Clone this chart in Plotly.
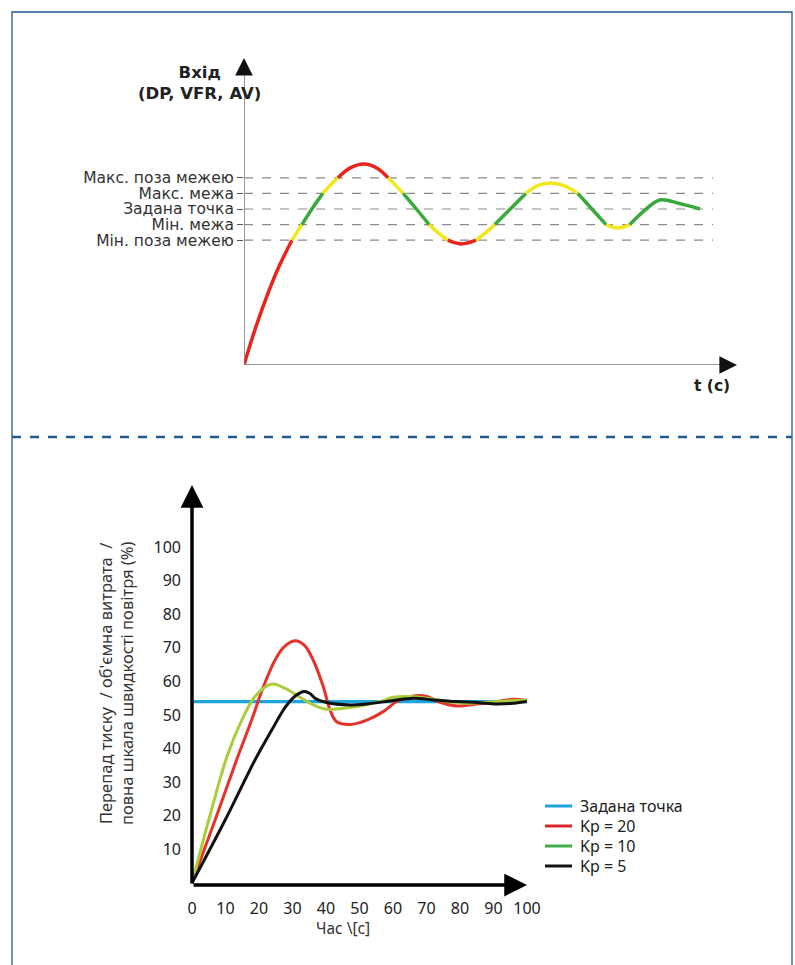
import plotly.graph_objects as go

W, H = 795, 965

# ---------------- Top chart data ----------------
TOP_T = [0, 2.5, 5.0, 7.5, 10.5, 12.7, 15.0, 17.3, 19.0, 20.6, 23.4, 26.5, 29.3, 31.6, 33.3, 34.9,
         37.8, 40.6, 42.7, 44.7, 47.6, 50.9, 52.9, 55.0, 58.4, 61.8, 64.4, 67.1, 70.2, 73.2,
         76.3, 79.4, 82.0, 84.6, 87.8, 91.2, 95.5, 100]
TOP_V = [0, 2.35, 4.4, 6.2, 8.0, 9.0, 10.05, 11.0, 11.55, 12.0, 12.65, 12.88, 12.6, 12.0, 11.5, 11.0,
         10.0, 9.0, 8.45, 8.0, 7.76, 8.0, 8.45, 9.0, 10.0, 11.0, 11.5, 11.67, 11.5, 11.0,
         10.0, 9.0, 8.78, 9.0, 9.9, 10.58, 10.35, 10.0]
LEVEL_VALUES = [12, 11, 10, 9, 8]
LEVEL_LABELS = ["Макс. поза межею", "Макс. межа", "Задана точка", "Мін. межа", "Мін. поза межею"]
TOP_SETPOINT = 10
TOP_INNER = 1
TOP_OUTER = 2

# ---------------- Bottom chart data ----------------
SP_T = [0, 100]
SP_V = [54, 54]
KP20_T = [0, 6.9, 13.3, 17.8, 21.3, 24.8, 27.5, 30.7, 33.5, 36.2, 39.2, 41.2, 43.2, 47.2, 52.2,
          57.1, 61.1, 64.5, 67.6, 70.1, 74.1, 79.1, 85.1, 91.0, 96.0, 100]
KP20_V = [0, 18.75, 36.6, 48.5, 58.4, 66.4, 70.3, 72.1, 70.8, 66.3, 58.4, 51.5, 48.0, 47.2, 48.5,
          51.0, 54.0, 55.3, 55.8, 55.5, 53.8, 52.7, 53.3, 54.0, 54.7, 54.3]
KP10_T = [0, 5.2, 10.5, 14.8, 18.8, 23.8, 27.8, 32.7, 36.2, 40.2, 45.2, 50.2, 56.1, 60.1, 65.1,
          70.1, 76.1, 82.1, 88.1, 94.0, 100]
KP10_V = [0, 19.5, 37.8, 48.3, 55.5, 59.2, 57.9, 55.0, 53.0, 51.7, 52.0, 52.7, 54.0, 55.3, 55.5,
          55.0, 54.0, 53.5, 53.8, 54.2, 54.5]
KP5_T = [0, 9.9, 18.8, 23.8, 27.8, 31.0, 33.5, 35.2, 37.0, 40.2, 47.2, 52.2, 60.1, 66.1, 72.1,
         79.1, 85.1, 91.0, 96.0, 100]
KP5_V = [0, 18.75, 36.6, 45.5, 52.3, 55.8, 57.0, 56.4, 54.8, 53.7, 53.0, 53.3, 54.3, 55.0, 54.5,
         54.0, 53.7, 53.3, 53.5, 54.0]
LEGEND_NAMES = ["Задана точка", "Kp = 20", "Kp = 10", "Kp = 5"]
X_TICKS = [0, 10, 20, 30, 40, 50, 60, 70, 80, 90, 100]
Y_TICKS = [10, 20, 30, 40, 50, 60, 70, 80, 90, 100]


def px(x):
    return x / W


def py(y):
    return 1 - y / H


fig = go.Figure()

# ---- top curve, coloured by zone ----
ZONE_COL = {"green": "#3aa93c", "yellow": "#f3e61a", "red": "#e8241d"}


def zone(v):
    d = abs(v - TOP_SETPOINT)
    if d <= TOP_INNER + 1e-9:
        return "green"
    if d <= TOP_OUTER + 1e-9:
        return "yellow"
    return "red"


runs = []
for i in range(len(TOP_T) - 1):
    c = zone((TOP_V[i] + TOP_V[i + 1]) / 2)
    if runs and runs[-1][0] == c:
        runs[-1][1].append(i + 1)
    else:
        runs.append([c, [i, i + 1]])

for c, idx in runs:
    fig.add_trace(go.Scatter(
        x=[TOP_T[k] for k in idx], y=[TOP_V[k] for k in idx],
        mode="lines", line=dict(color=ZONE_COL[c], width=3.5, shape="spline"),
        xaxis="x", yaxis="y", showlegend=False, hoverinfo="skip"))

# ---- bottom curves ----
COL_SP = "#1ba4dd"
COL_20 = "#e5332a"
COL_10 = "#a9cd3b"
COL_5 = "#111111"
LEG_COLS = ["#1ba4dd", "#d9262c", "#3fae49", "#111111"]

fig.add_trace(go.Scatter(x=SP_T, y=SP_V, mode="lines", line=dict(color=COL_SP, width=3.2),
                         name=LEGEND_NAMES[0], xaxis="x2", yaxis="y2", showlegend=False,
                         hoverinfo="skip"))
for tt, vv, col, nm in [(KP20_T, KP20_V, COL_20, LEGEND_NAMES[1]),
                        (KP10_T, KP10_V, COL_10, LEGEND_NAMES[2]),
                        (KP5_T, KP5_V, COL_5, LEGEND_NAMES[3])]:
    fig.add_trace(go.Scatter(x=tt, y=vv, mode="lines", name=nm,
                             line=dict(color=col, width=3, shape="spline", smoothing=1.0),
                             xaxis="x2", yaxis="y2", showlegend=False, hoverinfo="skip"))

# ---- axes geometry (reference pixel -> paper) ----
TOP_X0, TOP_X1 = 244, 737
TOP_Y0, TOP_Y1 = 365, 58
TOP_PX_PER_T = 4.56
TOP_PX_PER_V = 15.6
top_xmax = (TOP_X1 - TOP_X0) / TOP_PX_PER_T
top_ymax = (TOP_Y0 - TOP_Y1) / TOP_PX_PER_V

BOT_X0, BOT_X1 = 192, 527
BOT_Y0, BOT_Y1 = 885, 485
BOT_PX_PER_V = 3.36
bot_ymin = -(BOT_Y0 - 883) / BOT_PX_PER_V
bot_ymax = (883 - BOT_Y1) / BOT_PX_PER_V

TXT = "#333333"
fig.update_layout(
    width=W, height=H,
    margin=dict(l=0, r=0, t=0, b=0, pad=0, autoexpand=False),
    paper_bgcolor="white", plot_bgcolor="white",
    showlegend=False,
    xaxis=dict(domain=[px(TOP_X0), px(TOP_X1)], range=[0, top_xmax], showgrid=False,
               zeroline=False, showline=False, showticklabels=False, ticks="", anchor="y",
               automargin=False),
    yaxis=dict(domain=[py(TOP_Y0), py(TOP_Y1)], range=[0, top_ymax], showgrid=False,
               zeroline=False, showline=False, tickvals=LEVEL_VALUES, ticktext=LEVEL_LABELS,
               ticks="outside", ticklen=6, tickwidth=1, tickcolor="#555555",
               tickfont=dict(family="DejaVu Sans", size=15.5, color=TXT), anchor="x",
               automargin=False),
    xaxis2=dict(domain=[px(BOT_X0), px(BOT_X1)], range=[0, 100], showgrid=False,
                zeroline=False, showline=False, tickvals=X_TICKS, ticks="",
                ticklabelstandoff=12, automargin=False,
                tickfont=dict(family="Noto Sans", size=16, color="#222222"), anchor="y2"),
    yaxis2=dict(domain=[py(BOT_Y0), py(BOT_Y1)], range=[bot_ymin, bot_ymax], showgrid=False,
                zeroline=False, showline=False, tickvals=Y_TICKS, ticks="",
                ticklabelstandoff=10, automargin=False,
                tickfont=dict(family="Noto Sans", size=16, color="#222222"), anchor="x2"),
)

shapes = []
# frame
FRAME = "#1f5b8e"
shapes.append(dict(type="rect", xref="paper", yref="paper", x0=px(12), x1=px(792),
                   y0=-0.05, y1=py(12), line=dict(color=FRAME, width=1.3)))
shapes.append(dict(type="line", xref="paper", yref="paper", x0=px(12), x1=px(792),
                   y0=py(437), y1=py(437), line=dict(color=FRAME, width=2.5, dash="dash")))
# top dashed level lines
for v in LEVEL_VALUES:
    shapes.append(dict(type="line", xref="x", yref="y", x0=0, x1=(713 - TOP_X0) / TOP_PX_PER_T,
                       y0=v, y1=v, line=dict(color="#8a8a8a", width=1.2, dash="dash"),
                       layer="below"))
# top axes lines
shapes.append(dict(type="line", xref="x", yref="y", x0=0, x1=0, y0=0, y1=top_ymax - 0.5,
                   line=dict(color="#777777", width=1.5)))
shapes.append(dict(type="line", xref="x", yref="y", x0=0, x1=top_xmax - 2, y0=0, y1=0,
                   line=dict(color="#777777", width=1.5)))

ann = []
# manual legend (row spacing as in the reference)
LEG_ROWS = [806, 826, 846, 866]
for name, col, ry in zip(LEGEND_NAMES, LEG_COLS, LEG_ROWS):
    shapes.append(dict(type="line", xref="paper", yref="paper", x0=px(545), x1=px(572),
                       y0=py(ry), y1=py(ry), line=dict(color=col, width=3)))
    ann.append(dict(x=px(578), y=py(ry), xref="paper", yref="paper", showarrow=False,
                    text=name, xanchor="left", yanchor="middle",
                    font=dict(family="Noto Sans", size=16, color="#222222")))
fig.update_layout(shapes=shapes)

# top arrow heads
ann.append(dict(x=0, y=top_ymax, ax=0, ay=top_ymax - 1.0, xref="x", yref="y", axref="x", ayref="y",
                text="", showarrow=True, arrowhead=2, arrowsize=2.2, arrowwidth=1.6,
                arrowcolor="#111111", standoff=0))
ann.append(dict(x=top_xmax, y=0, ax=top_xmax - 3, ay=0, xref="x", yref="y", axref="x", ayref="y",
                text="", showarrow=True, arrowhead=2, arrowsize=2.2, arrowwidth=1.6,
                arrowcolor="#111111", standoff=0))
# bottom axes with arrows
ann.append(dict(x=0, y=bot_ymax, ax=0, ay=bot_ymin, xref="x2", yref="y2", axref="x2", ayref="y2",
                text="", showarrow=True, arrowhead=2, arrowsize=1.3, arrowwidth=3.5,
                arrowcolor="#000000", standoff=0))
ann.append(dict(x=100, y=bot_ymin, ax=0, ay=bot_ymin, xref="x2", yref="y2", axref="x2", ayref="y2",
                text="", showarrow=True, arrowhead=2, arrowsize=1.3, arrowwidth=3.5,
                arrowcolor="#000000", standoff=0))
# titles
ann.append(dict(x=px(199), y=py(83), xref="paper", yref="paper", showarrow=False,
                xanchor="center", yanchor="middle",
                text="<b>Вхід</b><br><b>(DP, VFR, AV)</b>",
                font=dict(family="DejaVu Sans", size=16.5, color="#222222"), align="center"))
ann.append(dict(x=px(712), y=py(386), xref="paper", yref="paper", showarrow=False,
                xanchor="center", yanchor="middle",
                text="<b>t (c)</b>",
                font=dict(family="DejaVu Sans", size=15.5, color="#222222")))
ann.append(dict(x=px(116), y=py(684), xref="paper", yref="paper", showarrow=False, textangle=-90,
                xanchor="center", yanchor="middle",
                text="Перепад тиску\u00a0 / об'ємна витрата\u00a0 /<br>повна шкала швидкості повітря (%)",
                font=dict(family="Noto Sans", size=16.5, color="#333333"), align="center"))
ann.append(dict(x=px(343), y=py(928), xref="paper", yref="paper", showarrow=False,
                xanchor="center", yanchor="middle",
                text="Час \\[c]",
                font=dict(family="Noto Sans", size=15.5, color="#333333")))
fig.update_layout(annotations=ann)

# remove the browser's default 8px page margin so the figure fills the window exactly
fig.write_html("out.html", config={"displayModeBar": False},
               post_script="document.body.style.margin='0';document.body.style.overflow='hidden';")
